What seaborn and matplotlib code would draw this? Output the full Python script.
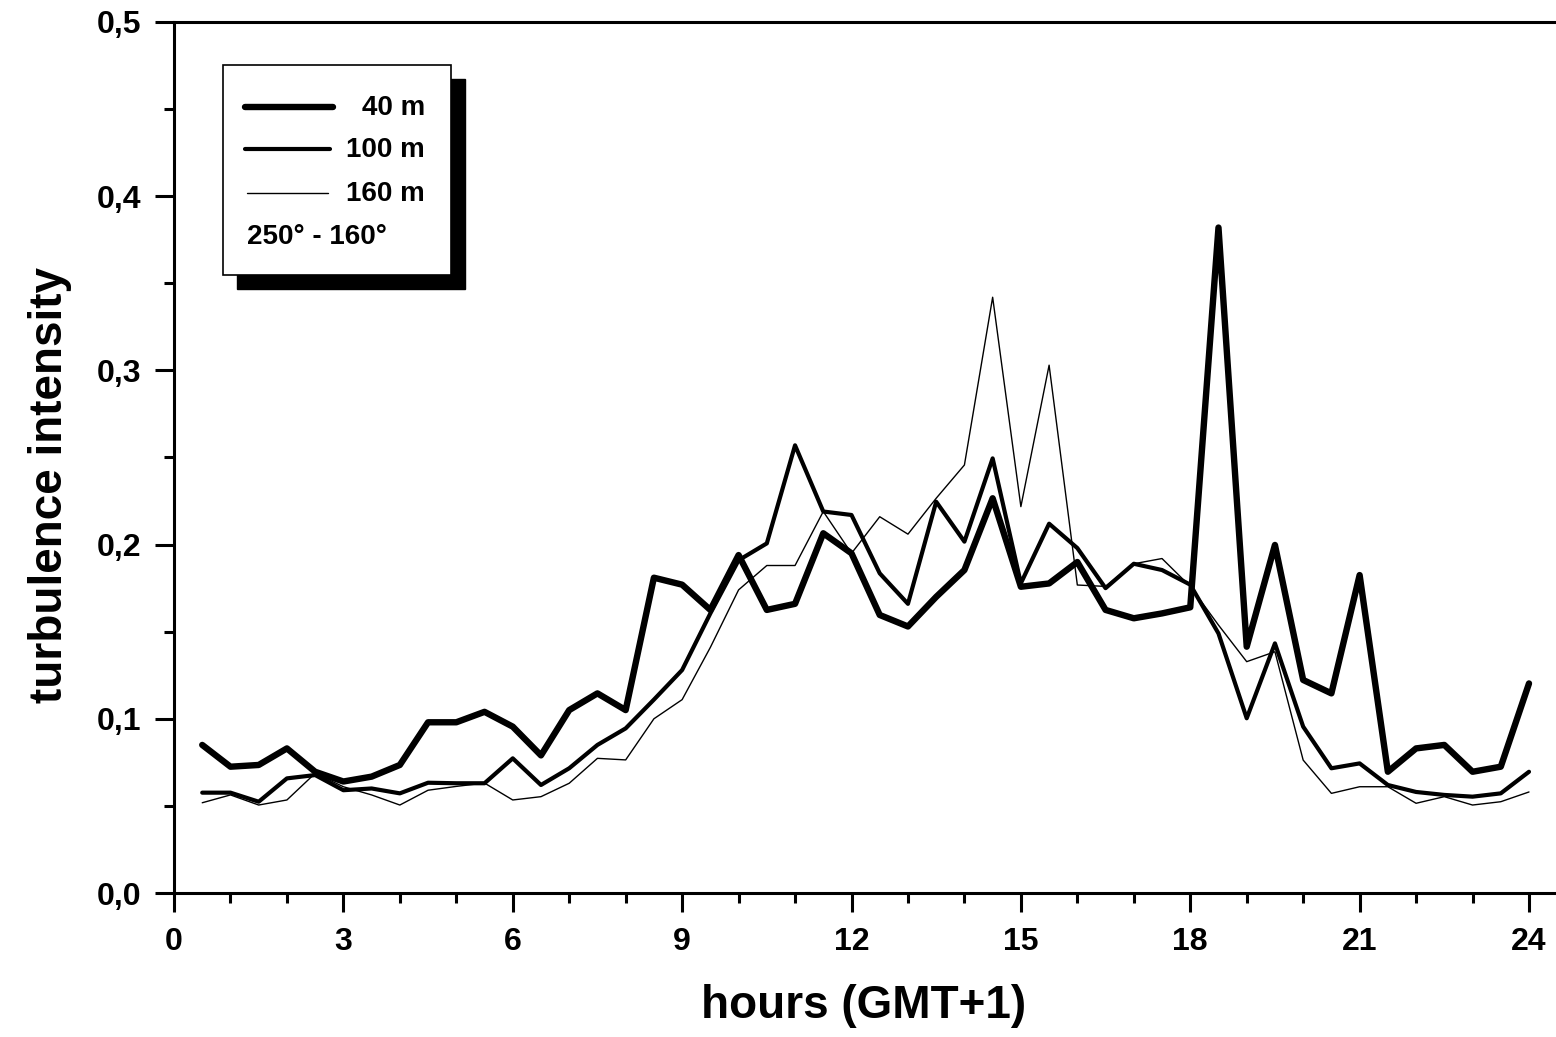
import numpy as np
import pandas as pd
import matplotlib
matplotlib.use("Agg")
import matplotlib.pyplot as plt
from matplotlib.lines import Line2D
from matplotlib.patches import Rectangle
from matplotlib.ticker import MultipleLocator, FuncFormatter
import seaborn as sns

# ---- data ----
hours = [0.5 * i for i in range(1, 49)]

ti_40m = [0.085, 0.0725, 0.0735, 0.083, 0.0696, 0.064, 0.0668, 0.0735,
          0.098, 0.098, 0.104, 0.0955, 0.079, 0.105, 0.1146, 0.105,
          0.181, 0.177, 0.1625, 0.194, 0.1625, 0.166, 0.2065, 0.195,
          0.1596, 0.153, 0.170, 0.1854, 0.2266, 0.1758, 0.1777, 0.190,
          0.1625, 0.1577, 0.1605, 0.164, 0.382, 0.1414, 0.1998, 0.1223,
          0.1146, 0.1825, 0.0696, 0.083, 0.085, 0.0696, 0.0725, 0.1203]

ti_100m = [0.0576, 0.0576, 0.0524, 0.0658, 0.0677, 0.059, 0.060, 0.0572,
           0.0633, 0.063, 0.063, 0.0773, 0.062, 0.0716, 0.085, 0.0945,
           0.111, 0.128, 0.1605, 0.191, 0.2007, 0.257, 0.219, 0.217,
           0.1835, 0.166, 0.2246, 0.2017, 0.2495, 0.1778, 0.212, 0.198,
           0.175, 0.189, 0.1854, 0.177, 0.149, 0.1003, 0.1433, 0.0955,
           0.0716, 0.0744, 0.062, 0.058, 0.0563, 0.0553, 0.0572, 0.0696]

ti_160m = [0.0518, 0.0563, 0.0505, 0.0534, 0.0687, 0.061, 0.0563, 0.0505,
           0.059, 0.0612, 0.0631, 0.0534, 0.0553, 0.063, 0.0773, 0.0764,
           0.100, 0.111, 0.141, 0.174, 0.188, 0.188, 0.219, 0.195,
           0.216, 0.206, 0.2266, 0.2457, 0.342, 0.2218, 0.303, 0.1768,
           0.176, 0.189, 0.192, 0.176, 0.1538, 0.1328, 0.1385, 0.0763,
           0.0572, 0.061, 0.061, 0.0515, 0.0553, 0.0505, 0.0524, 0.058]

series_labels = ["40 m", "100 m", "160 m"]
legend_note = "250° - 160°"
x_label = "hours (GMT+1)"
y_label = "turbulence intensity"
x_ticks = [0, 3, 6, 9, 12, 15, 18, 21, 24]
y_ticks = [0.0, 0.1, 0.2, 0.3, 0.4, 0.5]

# ---- style ----
sns.set_theme(style="ticks")
plt.rcParams["font.family"] = ["Liberation Sans", "DejaVu Sans"]
plt.rcParams["font.weight"] = "bold"
plt.rcParams["axes.labelweight"] = "bold"

W, H = 1556, 1037
fig = plt.figure(figsize=(W / 100, H / 100), dpi=100)
fig.patch.set_facecolor("white")

L, R, T, B = 174, 1556, 22, 893
ax = fig.add_axes([L / W, 1 - B / H, (R - L) / W, (B - T) / H])
ax.set_facecolor("white")

widths = [4.6, 3.0, 1.0]
for vals, lw in zip([ti_40m, ti_100m, ti_160m], widths):
    df = pd.DataFrame({"h": hours, "ti": vals})
    sns.lineplot(data=df, x="h", y="ti", ax=ax, color="black", linewidth=lw,
                 estimator=None, sort=False, legend=False)

ax.set_xlim(0, 24 * (R - L) / (1529 - L))
ax.set_ylim(0, 0.5)
ax.set_xticks(x_ticks)
ax.set_yticks(y_ticks)
ax.xaxis.set_minor_locator(MultipleLocator(1))
ax.yaxis.set_minor_locator(MultipleLocator(0.05))
ax.yaxis.set_major_formatter(FuncFormatter(lambda v, p: f"{v:.1f}".replace(".", ",")))

for s in ["left", "bottom", "top"]:
    ax.spines[s].set_visible(True)
    ax.spines[s].set_linewidth(2.2)
    ax.spines[s].set_color("black")
ax.spines["right"].set_visible(False)

ax.tick_params(axis="both", which="major", direction="out", length=13.5, width=2.2,
               color="black", labelsize=23, labelcolor="black")
ax.tick_params(axis="both", which="minor", direction="out", length=7, width=2.2,
               color="black")
ax.tick_params(axis="x", which="both", top=False, pad=11)
ax.tick_params(axis="y", which="both", right=False, pad=10)
for lab in ax.get_xticklabels() + ax.get_yticklabels():
    lab.set_fontweight("bold")

ax.set_xlabel(x_label, fontsize=33, fontweight="bold", color="black", va="center")
ax.set_ylabel(y_label, fontsize=33, fontweight="bold", color="black", va="center")
ax.xaxis.set_label_coords((864 - L) / (R - L), (B - 1006) / (B - T))
ax.yaxis.set_label_coords((50 - L) / (R - L), (B - 485) / (B - T))
ax.grid(False)

# ---- legend box with solid shadow (figure pixel coordinates) ----
def fx(px):
    return px / W

def fy(py):
    return 1 - py / H

tf = fig.transFigure
fig.add_artist(Rectangle((fx(237), fy(289)), fx(465) - fx(237), fy(79) - fy(289),
                         transform=tf, facecolor="black", edgecolor="black", zorder=5))
fig.add_artist(Rectangle((fx(223), fy(275)), fx(451) - fx(223), fy(65) - fy(275),
                         transform=tf, facecolor="white", edgecolor="black",
                         linewidth=1.2, zorder=6))
leg_rows = [(107, 245, 333), (149, 245, 330), (193, 247, 328)]
for (py, x0, x1), lw, lab in zip(leg_rows, widths, series_labels):
    fig.add_artist(Line2D([fx(x0), fx(x1)], [fy(py), fy(py)], transform=tf,
                          color="black", linewidth=lw, solid_capstyle="round", zorder=7))
    fig.text(fx(425), fy(py + 1), lab, ha="right", va="center", fontsize=20,
             fontweight="bold", color="black", zorder=7)
fig.text(fx(247), fy(237), legend_note, ha="left", va="center", fontsize=20,
         fontweight="bold", color="black", zorder=7)

fig.savefig("out.png", dpi=100, facecolor="white")
